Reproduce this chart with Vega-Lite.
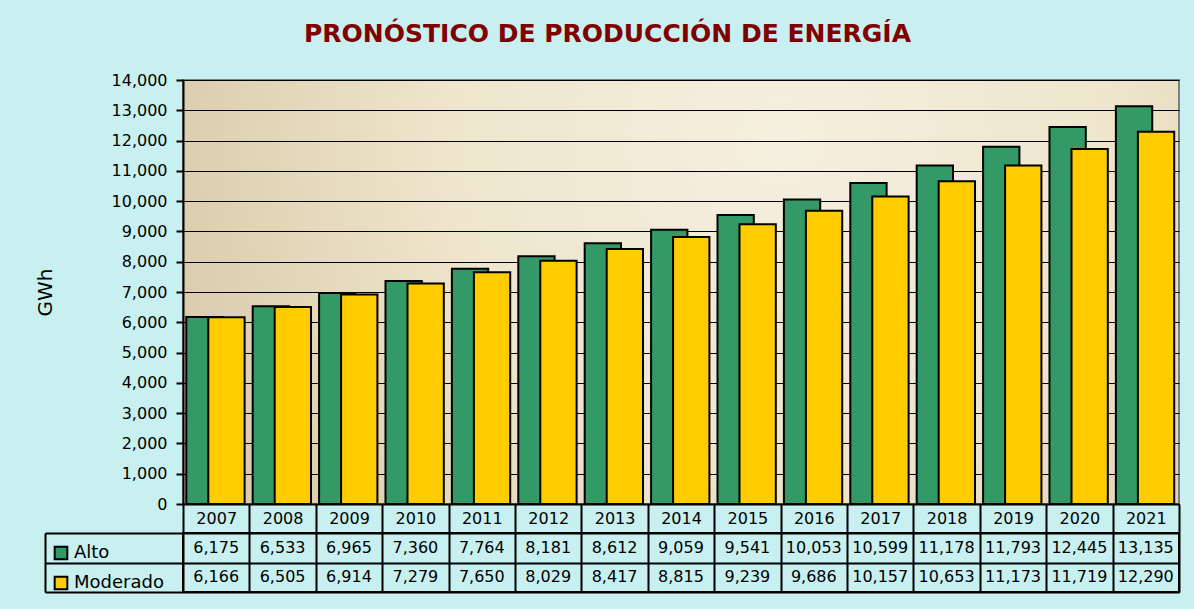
{
  "$schema": "https://vega.github.io/schema/vega-lite/v6.json",
  "autosize": {"type": "none"},
  "padding": {"left": 183, "top": 80, "right": 1011, "bottom": 529},
  "background": "#c8f0f0",
  "title": {"text": "PRONÓSTICO DE PRODUCCIÓN DE ENERGÍA", "font": "DejaVu Sans", "fontSize": 25, "fontWeight": "bold", "color": "#800000", "anchor": "middle", "offset": 24},
  "datasets": {
    "d": [
      {"year": "2007", "series": "Alto", "value": 6175},
      {"year": "2008", "series": "Alto", "value": 6533},
      {"year": "2009", "series": "Alto", "value": 6965},
      {"year": "2010", "series": "Alto", "value": 7360},
      {"year": "2011", "series": "Alto", "value": 7764},
      {"year": "2012", "series": "Alto", "value": 8181},
      {"year": "2013", "series": "Alto", "value": 8612},
      {"year": "2014", "series": "Alto", "value": 9059},
      {"year": "2015", "series": "Alto", "value": 9541},
      {"year": "2016", "series": "Alto", "value": 10053},
      {"year": "2017", "series": "Alto", "value": 10599},
      {"year": "2018", "series": "Alto", "value": 11178},
      {"year": "2019", "series": "Alto", "value": 11793},
      {"year": "2020", "series": "Alto", "value": 12445},
      {"year": "2021", "series": "Alto", "value": 13135},
      {"year": "2007", "series": "Moderado", "value": 6166},
      {"year": "2008", "series": "Moderado", "value": 6505},
      {"year": "2009", "series": "Moderado", "value": 6914},
      {"year": "2010", "series": "Moderado", "value": 7279},
      {"year": "2011", "series": "Moderado", "value": 7650},
      {"year": "2012", "series": "Moderado", "value": 8029},
      {"year": "2013", "series": "Moderado", "value": 8417},
      {"year": "2014", "series": "Moderado", "value": 8815},
      {"year": "2015", "series": "Moderado", "value": 9239},
      {"year": "2016", "series": "Moderado", "value": 9686},
      {"year": "2017", "series": "Moderado", "value": 10157},
      {"year": "2018", "series": "Moderado", "value": 10653},
      {"year": "2019", "series": "Moderado", "value": 11173},
      {"year": "2020", "series": "Moderado", "value": 11719},
      {"year": "2021", "series": "Moderado", "value": 12290}
    ]
  },
  "spacing": 29,
  "bounds": "flush",
  "resolve": {"scale": {"color": "independent"}, "legend": {"color": "independent"}},
  "config": {"font": "DejaVu Sans"},
  "vconcat": [
    {
      "width": 996,
      "height": 424,
      "data": {"name": "d"},
      "view": {
        "fill": {"gradient": "radial", "x1": 0.6, "y1": 0.35, "r1": 0, "x2": 0.6, "y2": 0.35, "r2": 0.75,
                 "stops": [{"offset": 0, "color": "#f5efdf"}, {"offset": 0.45, "color": "#eee5cc"}, {"offset": 1, "color": "#d2c29e"}]},
        "stroke": "#7f7f7f",
        "strokeWidth": 2
      },
      "encoding": {
        "x": {"field": "year", "type": "ordinal", "scale": {"paddingInner": 0, "paddingOuter": 0},
              "axis": {"title": null, "labelAngle": 0, "tickBand": "extent", "tickSize": 29, "tickColor": "black", "tickWidth": 2,
                       "domainColor": "black", "domainWidth": 2, "labelFontSize": 16, "labelColor": "black",
                       "labelBaseline": "middle", "labelPadding": -15, "grid": false}},
        "y": {"field": "value", "type": "quantitative", "scale": {"domain": [0, 14000]},
              "axis": {"title": "GWh", "values": [0, 1000, 2000, 3000, 4000, 5000, 6000, 7000, 8000, 9000, 10000, 11000, 12000, 13000, 14000],
                       "format": ",d", "grid": true, "gridColor": "black", "gridWidth": 1, "gridOpacity": 1,
                       "tickSize": 7, "tickWidth": 2, "tickColor": "black", "domainColor": "black", "domainWidth": 2,
                       "labelPadding": 9, "labelFontSize": 16, "labelColor": "black",
                       "titleFontSize": 20, "titleFontWeight": "normal", "titlePadding": 56, "titleColor": "black"}},
        "color": {"field": "series", "type": "nominal",
                  "scale": {"domain": ["Alto", "Moderado"], "range": ["#339966", "#ffcc00"]},
                  "legend": {"orient": "none", "legendX": -131, "legendY": 464, "title": null, "direction": "vertical",
                             "symbolType": "square", "symbolSize": 160, "symbolStrokeColor": "black", "symbolStrokeWidth": 2,
                             "labelFontSize": 18, "labelColor": "black", "rowPadding": 8, "labelOffset": 4}}
      },
      "layer": [
        {
          "transform": [{"filter": "datum.series == 'Alto'"}],
          "mark": {"type": "bar", "stroke": "black", "strokeWidth": 2, "width": {"band": 0.547}, "xOffset": -11.75}
        },
        {
          "transform": [{"filter": "datum.series == 'Moderado'"}],
          "mark": {"type": "bar", "stroke": "black", "strokeWidth": 2, "width": {"band": 0.547}, "xOffset": 10.25}
        }
      ]
    },
    {
      "width": 996,
      "height": 59,
      "data": {"name": "d"},
      "view": {"stroke": "black", "strokeWidth": 2, "fill": null},
      "mark": {"type": "text", "fontSize": 16, "color": "black", "baseline": "middle"},
      "encoding": {
        "x": {"field": "year", "type": "ordinal", "scale": {"paddingInner": 0, "paddingOuter": 0},
              "axis": {"title": null, "labels": false, "ticks": false, "domain": false, "grid": true, "tickBand": "extent",
                       "gridColor": "black", "gridWidth": 2, "gridOpacity": 1}},
        "y": {"field": "series", "type": "nominal", "scale": {"domain": ["Alto", "Moderado"], "paddingInner": 0, "paddingOuter": 0},
              "axis": {"title": null, "labels": false, "offset": 138, "tickBand": "extent", "tickSize": -138, "tickColor": "black",
                       "tickWidth": 2, "domainColor": "black", "domainWidth": 2, "grid": true, "gridColor": "black", "gridWidth": 2, "gridOpacity": 1}},
        "text": {"field": "value", "type": "quantitative", "format": ","}
      }
    }
  ]
}
